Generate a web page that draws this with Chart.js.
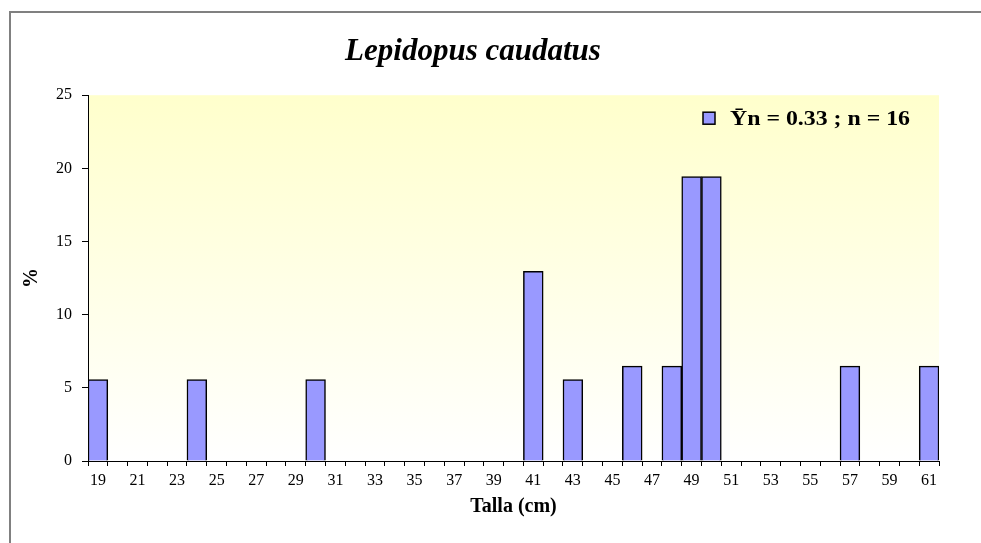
<!DOCTYPE html>
<html>
<head>
<meta charset="utf-8">
<script src="https://cdn.jsdelivr.net/npm/chart.js@4"></script>
<style>
  html, body { margin: 0; padding: 0; background: #fff; }
  #wrap { position: relative; width: 981px; height: 543px; }
</style>
</head>
<body>
<div id="wrap"><canvas id="chart" width="981" height="543"></canvas></div>
<script>
/* Lepidopus caudatus: length-frequency histogram (%). */

const SIZE_CLASSES = [19, 20, 21, 22, 23, 24, 25, 26, 27, 28, 29, 30, 31, 32, 33, 34, 35, 36, 37, 38, 39, 40,
  41, 42, 43, 44, 45, 46, 47, 48, 49, 50, 51, 52, 53, 54, 55, 56, 57, 58, 59, 60, 61];
const BAR_LENGTHS = [19, 24, 30, 41, 43, 46, 48, 49, 50, 57, 61];
const BAR_PCT = [5.56, 5.56, 5.56, 12.96, 5.56, 6.48, 6.48, 19.44, 19.44, 6.48, 6.48];
const Y_TICKS = [0, 5, 10, 15, 20, 25];

const SERIES_LABEL = "\u0232n = 0.33 ; n = 16";
const FONT = "'Liberation Serif', 'Times New Roman', serif";

const values = SIZE_CLASSES.map((c) => {
  const i = BAR_LENGTHS.indexOf(c);
  return i >= 0 ? BAR_PCT[i] : null;
});

const frameAndBackground = {
  id: "frameAndBackground",
  beforeDraw(chart) {
    const { ctx, chartArea: a } = chart;
    ctx.save();
    ctx.strokeStyle = "#808080";
    ctx.lineWidth = 2;
    ctx.beginPath();
    ctx.moveTo(10, 543);
    ctx.lineTo(10, 12);
    ctx.lineTo(981, 12);
    ctx.stroke();
    const g = ctx.createLinearGradient(0, a.top, 0, a.bottom);
    g.addColorStop(0, "#ffffcc");
    g.addColorStop(1, "#ffffff");
    ctx.fillStyle = g;
    ctx.fillRect(a.left, a.top, a.right - a.left, a.bottom - a.top);
    ctx.restore();
  },
  // legend sits inside the plot, top right
  afterDraw(chart) {
    const { ctx, chartArea: a } = chart;
    const ds = chart.data.datasets[0];
    const boxX = a.right - 236, boxY = a.top + 17, box = 12;
    ctx.save();
    ctx.fillStyle = ds.backgroundColor;
    ctx.fillRect(boxX, boxY, box, box);
    ctx.strokeStyle = "#000";
    ctx.lineWidth = 1.5;
    ctx.strokeRect(boxX, boxY, box, box);
    ctx.font = "bold 22px " + FONT;
    ctx.fillStyle = "#000";
    ctx.textBaseline = "middle";
    const w = ctx.measureText(ds.label).width;
    const tx = boxX + 27;
    ctx.translate(tx, boxY + box / 2 + 1);
    ctx.scale(180 / w, 1);
    ctx.fillText(ds.label, 0, 0);
    ctx.restore();
  },
};

new Chart(document.getElementById("chart"), {
  type: "bar",
  data: {
    labels: SIZE_CLASSES,
    datasets: [{
      label: SERIES_LABEL,
      data: values,
      backgroundColor: "#9999ff",
      borderColor: "#000",
      borderWidth: 1.5,
      categoryPercentage: 1,
      barPercentage: 1,
    }],
  },
  options: {
    responsive: false,
    animation: false,
    devicePixelRatio: 1,
    layout: { padding: { left: 7, right: 42, top: 0, bottom: 22 } },
    plugins: {
      title: {
        display: true,
        text: "Lepidopus caudatus",
        color: "#000",
        font: { family: FONT, size: 31, weight: "bold", style: "italic", lineHeight: 1.2 },
        padding: { top: 33, bottom: 25 },
      },
      legend: { display: false },
      tooltip: { enabled: false },
    },
    scales: {
      x: {
        afterFit: (s) => { s.height = 60; },
        grid: { display: true, drawOnChartArea: false, tickLength: 5, color: "#000", offset: true },
        border: { color: "#000", width: 1 },
        ticks: {
          autoSkip: false,
          maxRotation: 0,
          padding: 5,
          color: "#000",
          font: { family: FONT, size: 16 },
          callback: function (v, i) { return i % 2 === 0 ? this.getLabelForValue(v) : ""; },
        },
        title: {
          display: true,
          text: "Talla (cm)",
          color: "#000",
          font: { family: FONT, size: 20, weight: "bold", lineHeight: 1.2 },
          padding: { top: 0, bottom: 2 },
        },
      },
      y: {
        min: 0,
        max: 25,
        afterFit: (s) => { s.width = 81; },
        afterBuildTicks: (s) => { s.ticks = Y_TICKS.map((v) => ({ value: v })); },
        grid: { display: true, drawOnChartArea: false, tickLength: 6, color: "#000" },
        border: { color: "#000", width: 1 },
        ticks: { padding: 10, color: "#000", font: { family: FONT, size: 16 } },
        title: {
          display: true,
          text: "%",
          color: "#000",
          font: { family: FONT, size: 20, weight: "bold", lineHeight: 1.2 },
          padding: { top: 13, bottom: 0 },
        },
      },
    },
  },
  plugins: [frameAndBackground],
});
</script>
</body>
</html>
